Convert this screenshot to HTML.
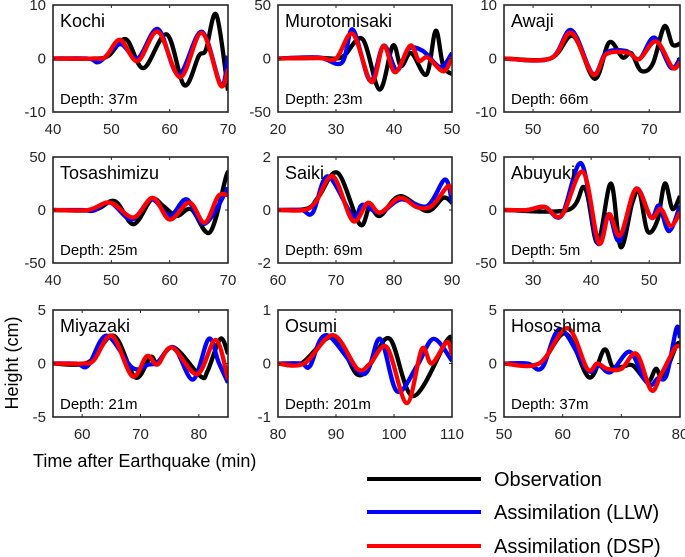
<!DOCTYPE html>
<html><head><meta charset="utf-8">
<style>
html,body{margin:0;padding:0;background:#fff;}
svg{display:block;font-family:"Liberation Sans",Arial,sans-serif;}
</style></head>
<body>
<svg id="chart" width="685" height="557" viewBox="0 0 685 557" xmlns="http://www.w3.org/2000/svg">
<text transform="translate(18,363) rotate(-90)" text-anchor="middle" font-size="18">Height (cm)</text>
<text x="33" y="467" font-size="18">Time after Earthquake (min)</text>
<g>
<g><line x1="367" y1="479" x2="481" y2="479" stroke="#000" stroke-width="4"/><text x="494" y="486" font-size="20">Observation</text></g>
<g><line x1="367" y1="512" x2="481" y2="512" stroke="#0000ff" stroke-width="4"/><text x="494" y="519" font-size="20">Assimilation (LLW)</text></g>
<g><line x1="367" y1="546" x2="481" y2="546" stroke="#ff0000" stroke-width="4"/><text x="494" y="553" font-size="20">Assimilation (DSP)</text></g>
</g>
</svg>
<script>
// ---- data: station names, depths, axis ranges, ticks, series ----
const stations = ["Kochi","Murotomisaki","Awaji","Tosashimizu","Saiki","Abuyuki","Miyazaki","Osumi","Hososhima"];
const depths = ["37m","23m","66m","25m","69m","5m","21m","201m","37m"];
const xRanges = [[40,70],[20,50],[45,75.3],[40,70],[60,90],[25,55.3],[55,85],[80,110],[50,80]];
const yRanges = [[-10,10],[-50,50],[-10,10],[-50,50],[-2,2],[-50,50],[-5,5],[-1,1],[-5,5]];
const xTicks = [[40,50,60,70],[20,30,40,50],[50,60,70],[40,50,60,70],[60,70,80,90],[30,40,50],[60,70,80],[80,90,100,110],[50,60,70,80]];
const yTickLabels = [["-10","0","10"],["-50","0","50"],["-10","0","10"],["-50","0","50"],["-2","0","2"],["-50","0","50"],["-5","0","5"],["-1","0","1"],["-5","0","5"]];

const obs = [
 [[40,0],[47,0],[49.5,0.5],[52.5,3.6],[55.5,-1.8],[59.5,4.5],[62.5,-5],[65,0.5],[66.2,1.6],[68,8.2],[70,-6]],
 [[20,0],[27,0.5],[30,0],[31.5,3],[34.6,18],[37.5,-29],[39.8,12],[41.2,-7],[43,5],[45.6,-15],[47.2,26],[48.5,-7],[50.2,-15]],
 [[45,0],[53,0],[56.9,4.2],[60.6,-3.8],[63.1,3],[65.4,0.2],[66.9,1],[68.6,-2.3],[70.6,-1],[72.6,6],[74,2.6],[75.3,2.8]],
 [[40,0],[47,0],[50.6,8.4],[53.8,-13.4],[56.9,10],[58.9,3.7],[61.2,-5.6],[63.7,0.6],[66.9,-21],[69.7,32],[70,32]],
 [[60,0],[65,0.05],[67,0.5],[70.3,1.4],[74.1,-0.54],[75.8,0.1],[77.6,-0.22],[81,0.52],[85.7,-0.04],[88.5,0.46],[90,0.27]],
 [[25,0],[36,0],[38.9,21],[41.1,-31],[43.4,25],[45.1,-35],[47.1,7],[48.3,17],[49.7,-20],[51.4,-10],[52.7,25],[54,1],[55.3,13]],
 [[55,0],[61,0.1],[65.4,2.6],[69.1,-1.3],[71.7,0.6],[72.9,0.1],[75.7,1.5],[80.3,-1.2],[81.5,-0.7],[83.7,2.3],[85,0.9]],
 [[80,0],[84,0],[89.5,0.5],[93.6,-0.2],[96,0],[99.3,0.46],[103.3,-0.61],[109.1,0.43],[110,0.4]],
 [[50,0],[56,0],[60.5,2.8],[64.5,-1.3],[67.1,1.3],[68.5,-0.3],[70.2,-0.3],[72,-0.2],[74.5,-1.7],[75.9,-0.5],[77.1,-1.3],[79.4,1.7],[80,1.7]]
];
const llw = [
 [[40,0],[46,0],[48,-0.6],[51.5,2.7],[54.5,0],[58,5.5],[61.5,-3],[65.5,5],[68.8,-5],[70,0.5]],
 [[20,0],[27,1],[31,-4],[32.9,27],[35.9,-21],[38.2,12],[40.5,-11],[42.5,9],[45,7],[48,-8],[50,5]],
 [[45,0],[53,0],[56.6,5.3],[60.3,-2.9],[62.6,1.1],[66,1.4],[68.3,-0.1],[70.9,3.9],[73.7,-1.7],[75.3,0]],
 [[40,0],[45,0],[47,-0.5],[49.8,7],[53.5,-9],[56.9,10],[60,-5.6],[62.9,10],[66,-13],[70,21]],
 [[60,0],[64,0],[66,-0.1],[68.6,1.27],[72.9,-0.22],[74.6,0.2],[77.6,-0.1],[81.2,0.4],[85.7,0.15],[88.8,1.15],[90,0.27]],
 [[25,0],[29,0],[32,3],[34.9,-5.4],[38.3,44],[41.1,-31],[43,-4],[44.9,-29],[47.7,20],[50.3,-7],[51.7,4],[53.4,-20],[55.3,4]],
 [[55,0],[59,0],[61,-0.2],[64.2,2.6],[68.6,-0.4],[71.4,-0.1],[72.9,0.1],[75.7,1.5],[79,-1.5],[81.7,2.3],[83.4,0.1],[85,-1.8]],
 [[80,0],[84,0],[85.5,-0.05],[88.4,0.53],[94.7,-0.2],[97.6,0.46],[100.5,-0.52],[104,-0.04],[106.8,0.46],[110,0.05]],
 [[50,0],[54,0],[56.5,-0.4],[59.6,3.2],[64.2,-0.6],[66.2,-0.2],[68.2,-0.8],[71.4,1.1],[73.7,-1.3],[75.1,-2],[76.2,-1.4],[77.7,-1.1],[79.4,3.3],[80,2.4]]
];
const dsp = [
 [[40,0],[47,0],[49,0.3],[51.5,3.5],[54.5,-0.5],[58,5],[61.8,-3.5],[65.5,4.8],[68.7,-5],[70,-2]],
 [[20,0],[27,0.5],[30,0],[32.9,23],[36.1,-22],[38.2,12],[40.2,-13],[42.8,12],[44.3,-2],[45.8,1],[48.5,-12],[50,1]],
 [[45,0],[53,0],[56.6,4.8],[60.3,-3],[62.6,0.8],[66.3,1.1],[68.3,-0.1],[71.2,3.2],[74,-1.7],[75.3,-0.7]],
 [[40,0],[46,0],[49.8,7],[53.8,-7],[57.1,11.5],[60,-9],[63.4,7],[66,-12],[68.3,13],[70,14]],
 [[60,0],[64.5,0],[66.5,0.3],[69.5,1.27],[72.9,-0.41],[75.5,0.27],[77.6,-0.1],[81,0.46],[84,0.1],[86.5,0.15],[89.3,0.9],[90,0.6]],
 [[25,0],[29,0],[32,3],[34.9,-5.4],[38.6,36],[41.3,-31],[43.1,-4],[45,-24],[47.7,20],[50.3,-7],[52,1],[53.7,-15],[55.3,-2]],
 [[55,0],[60,0],[62,0.3],[65.1,2.6],[68.6,-1.2],[71.1,0.7],[72.9,-0.1],[75.4,1.5],[79.7,-1],[82.9,2.2],[85,-1.5]],
 [[80,0],[84.5,0],[89.5,0.53],[93.7,-0.1],[95.9,0],[98.8,0.3],[102.2,-0.74],[104.8,0.27],[106.5,0],[109.1,0.4],[110,0.15]],
 [[50,0],[56,0],[60.8,3.3],[64.2,-0.5],[65.9,0],[67.6,-0.5],[70,-0.5],[72.6,0.9],[75.1,-2.5],[76.8,-1],[79.1,1.4],[80,1.6]]
];

const colLeft=[53,278,504], colRight=[228,452,680];
const rowTop=[5,157,310], rowBot=[112,263,417];
const NS="http://www.w3.org/2000/svg";
const svg=document.getElementById('chart');
function mk(tag,attrs,parent){const e=document.createElementNS(NS,tag);for(const k in attrs)e.setAttribute(k,attrs[k]);(parent||svg).appendChild(e);return e;}
function smoothPath(pts){
  let d="M"+pts[0][0].toFixed(2)+","+pts[0][1].toFixed(2);
  for(let i=0;i<pts.length-1;i++){
    const p0=pts[Math.max(0,i-1)],p1=pts[i],p2=pts[i+1],p3=pts[Math.min(pts.length-1,i+2)];
    const c1=[p1[0]+(p2[0]-p0[0])/6,p1[1]+(p2[1]-p0[1])/6];
    const c2=[p2[0]-(p3[0]-p1[0])/6,p2[1]-(p3[1]-p1[1])/6];
    d+="C"+c1[0].toFixed(2)+","+c1[1].toFixed(2)+" "+c2[0].toFixed(2)+","+c2[1].toFixed(2)+" "+p2[0].toFixed(2)+","+p2[1].toFixed(2);
  }
  return d;
}
stations.forEach((name,i)=>{
  const r=Math.floor(i/3),c=i%3;
  const L=colLeft[c],R=colRight[c],T=rowTop[r],B=rowBot[r];
  const [x0,x1]=xRanges[i],[y0,y1]=yRanges[i];
  const sx=v=>L+(v-x0)/(x1-x0)*(R-L);
  const sy=v=>B-(v-y0)/(y1-y0)*(B-T);
  const g=mk('g',{});
  
  
  const cp=mk('clipPath',{id:'clip'+i},g);
  mk('rect',{x:L,y:T,width:R-L,height:B-T},cp);
  [[obs,'#000','observation'],[llw,'#0000ff','llw'],[dsp,'#ff0000','dsp']].forEach(([arr,col,key])=>{
    const pts=arr[i].map(p=>[sx(p[0]),sy(p[1])]);
    const p=mk('path',{d:smoothPath(pts),fill:'none',stroke:col,'stroke-width':4.3,'stroke-linejoin':'round','clip-path':'url(#clip'+i+')'},g);
    
    
  });
  const bx=mk('rect',{x:L,y:T,width:R-L,height:B-T,fill:'none',stroke:'#262626','stroke-width':1.6},g);
  
  
  xTicks[i].forEach(t=>{
    const x=sx(t);
    mk('line',{x1:x,y1:B,x2:x,y2:B-3,stroke:'#262626','stroke-width':1},g);
    mk('line',{x1:x,y1:T,x2:x,y2:T+3,stroke:'#262626','stroke-width':1},g);
    const tx=mk('text',{x:x,y:B+22,'text-anchor':'middle','font-size':15,fill:'#262626'},g);
    
    
    tx.textContent=t;
  });
  const yv=[y0,(y0+y1)/2,y1];
  yv.forEach((v,k)=>{
    const y=sy(v);
    mk('line',{x1:L,y1:y,x2:L+3,y2:y,stroke:'#262626','stroke-width':1},g);
    mk('line',{x1:R,y1:y,x2:R-3,y2:y,stroke:'#262626','stroke-width':1},g);
    const ty=mk('text',{x:L-7,y:y+5,'text-anchor':'end','font-size':15,fill:'#262626'},g);
    
    
    ty.textContent=yTickLabels[i][k];
  });
  const nt=mk('text',{x:L+7,y:T+22,'font-size':18,fill:'#000'},g);
  
  
  nt.textContent=name;
  const dt=mk('text',{x:L+7,y:B-8,'font-size':15,fill:'#000'},g);
  
  
  dt.textContent='Depth: '+depths[i];
});
</script>
</body></html>
